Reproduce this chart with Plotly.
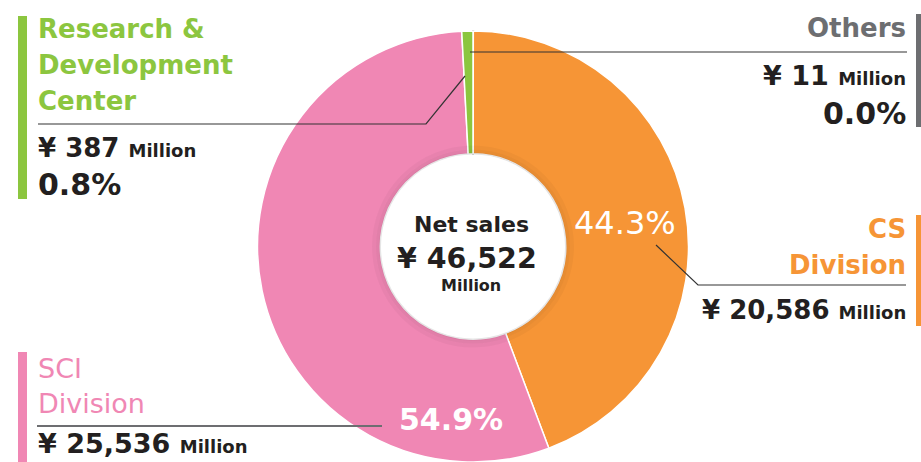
import plotly.graph_objects as go

W, H = 921, 462

# segment data, in clockwise order starting at 12 o'clock
segments = ["Others", "CS Division", "SCI Division", "Research & Development Center"]
title_lines = [["Others"], ["CS", "Division"], ["SCI", "Division"], ["Research &", "Development", "Center"]]
sales = [11, 20586, 25536, 387]          # ¥ million
shares = [0.0, 44.3, 54.9, 0.8]          # %
colors = ["#6d6e71", "#f69536", "#f087b4", "#8cc63f"]
total_sales = 46522
center_title = "Net sales"
unit = "Million"

FONT = "DejaVu Sans"
DARK = "#231f20"


def px(x):
    return x / W


def py(y):
    return 1 - y / H


fig = go.Figure(go.Pie(
    labels=segments,
    values=sales,
    sort=False,
    direction="clockwise",
    rotation=0,
    hole=0.43,
    marker=dict(colors=colors,
                line=dict(color=["#555555", "white", "white", "white"], width=[2, 1.5, 1.5, 1.5])),
    textinfo="none",
    showlegend=False,
    domain=dict(x=[px(473 - 216), px(473 + 216)], y=[0, py(31)]),
))

shapes = []

# soft shadow round the hole
for r, lw, a in [(93, 2, 0.10), (95.5, 3, 0.06), (99, 4, 0.03)]:
    shapes.append(dict(type="circle", xref="paper", yref="paper",
                       x0=px(473 - r), x1=px(473 + r), y0=py(246.5 + r), y1=py(246.5 - r),
                       line=dict(color=f"rgba(0,0,0,{a})", width=lw), layer="above"))

# coloured side bars
bars = [(916, 921, 14, 127), (916, 921, 215, 326), (18, 27, 352, 462), (18, 27, 16, 199)]
for (x0, x1, y0, y1), c in zip(bars, colors):
    shapes.append(dict(type="rect", xref="paper", yref="paper", x0=px(x0), x1=px(x1),
                       y0=py(y1), y1=py(y0), fillcolor=c, line=dict(width=0)))


def path(points, color="#333333", width=1.2):
    d = "M " + " L ".join(f"{px(x)},{py(y)}" for x, y in points)
    shapes.append(dict(type="path", xref="paper", yref="paper", path=d,
                       line=dict(color=color, width=width), layer="above"))


path([(38, 124), (426, 124), (465, 76)])
path([(470, 52), (907, 52)])
path([(656, 245), (698, 285), (906, 285)])
path([(37, 426), (382, 426)], color="#6d6e71", width=2)

fig.update_layout(shapes=shapes)


def note(text, x, y, size, color=DARK, anchor="left", bold=True):
    fig.add_annotation(text=f"<b>{text}</b>" if bold else text, x=px(x), y=py(y),
                       xref="paper", yref="paper", xanchor=anchor, yanchor="middle",
                       showarrow=False, font=dict(family=FONT, size=size, color=color))


def amount(v, small=18):
    return f"¥ {v:,} <span style='font-size:{small}px'>{unit}</span>"


# Others (right, top)
note(title_lines[0][0], 908, 28, 26, colors[0], "right")
note(amount(sales[0]), 908, 76, 27, DARK, "right")
note(f"{shares[0]:.1f}%", 908, 113, 30, DARK, "right")

# CS Division (right, middle)
note(title_lines[1][0], 908, 229, 26, colors[1], "right")
note(title_lines[1][1], 908, 265, 26, colors[1], "right")
note(amount(sales[1]), 908, 310, 26, DARK, "right")

# SCI Division (left, bottom)
note(title_lines[2][0], 36, 368, 27, colors[2], "left", bold=False)
note(title_lines[2][1], 36, 403, 27, colors[2], "left", bold=False)
note(amount(sales[2]), 36, 443, 27, DARK, "left")

# Research & Development Center (left, top)
note(title_lines[3][0], 36, 29, 26, colors[3], "left")
note(title_lines[3][1], 36, 65, 26, colors[3], "left")
note(title_lines[3][2], 36, 101, 26, colors[3], "left")
note(amount(sales[3]), 36, 148, 26, DARK, "left")
note(f"{shares[3]:.1f}%", 36, 185, 30, DARK, "left")

# shares inside the ring
note(f"{shares[1]:.1f}%", 625, 223, 32, "white", "center", bold=False)
note(f"{shares[2]:.1f}%", 451, 419, 30, "white", "center")

# centre total
note(center_title, 471, 224, 22, DARK, "center")
note(f"¥ {total_sales:,}", 467, 258, 28.5, DARK, "center")
note(unit, 471, 285, 16, DARK, "center")

fig.update_layout(
    width=W, height=H,
    margin=dict(l=0, r=0, t=0, b=0),
    paper_bgcolor="white",
    plot_bgcolor="white",
)

# the page body has a default 8px margin; drop it so the figure fills the window
fig.write_html("out.html", config={"displayModeBar": False},
               post_script="document.body.style.margin='0';")
